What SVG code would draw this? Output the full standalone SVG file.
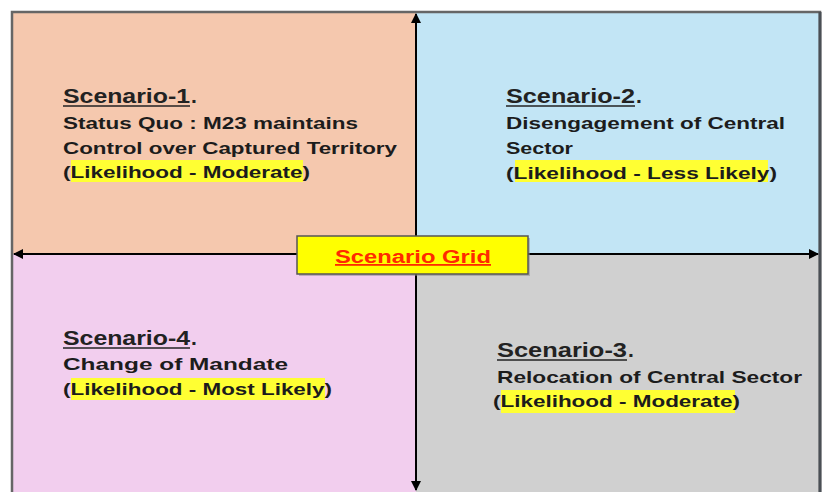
<svg xmlns="http://www.w3.org/2000/svg" width="825" height="492" viewBox="0 0 825 492">
<defs>
<style>
.h{font-family:"Liberation Sans",Arial,sans-serif;font-weight:bold;font-size:21px;fill:#222}
.b{font-family:"Liberation Sans",Arial,sans-serif;font-weight:bold;font-size:17px;fill:#1c1c1c}
.hl{fill:#ffff33}
.ul{stroke:#222;stroke-width:1.6}
.ax{stroke:#000;stroke-width:2;fill:none}
.g{font-family:"Liberation Sans",Arial,sans-serif;font-weight:bold;font-size:18px;fill:#ff2a00}
</style>
<marker id="ar" viewBox="0 0 10 10" refX="9" refY="5" markerWidth="5" markerHeight="5" orient="auto-start-reverse" markerUnits="strokeWidth">
<path d="M0,0 L10,5 L0,10 Z" fill="#000"/>
</marker>
</defs>
<rect width="825" height="492" fill="#fff"/>
<g id="q1">
<rect x="12" y="12" width="404" height="242" fill="#f5c8ae"/>
<rect class="hl" x="71" y="160" width="232" height="22"/>
<text class="h" x="63" y="103" textLength="127" lengthAdjust="spacingAndGlyphs">Scenario-1</text>
<text class="h" x="191" y="103">.</text>
<line class="ul" x1="63" y1="106" x2="190" y2="106"/>
<text class="b" x="63" y="129" textLength="295" lengthAdjust="spacingAndGlyphs">Status Quo : M23 maintains</text>
<text class="b" x="63" y="154" textLength="334" lengthAdjust="spacingAndGlyphs">Control over Captured Territory</text>
<text class="b" x="63" y="178" textLength="247" lengthAdjust="spacingAndGlyphs">(Likelihood - Moderate)</text>
</g>
<g id="q2">
<rect x="416" y="12" width="404" height="242" fill="#c2e5f5"/>
<rect class="hl" x="515" y="160" width="253" height="22"/>
<text class="h" x="506" y="103" textLength="129" lengthAdjust="spacingAndGlyphs">Scenario-2</text>
<text class="h" x="636" y="103">.</text>
<line class="ul" x1="506" y1="106" x2="635" y2="106"/>
<text class="b" x="506" y="129" textLength="279" lengthAdjust="spacingAndGlyphs">Disengagement of Central</text>
<text class="b" x="506" y="154" textLength="67" lengthAdjust="spacingAndGlyphs">Sector</text>
<text class="b" x="506" y="179" textLength="271" lengthAdjust="spacingAndGlyphs">(Likelihood - Less Likely)</text>
</g>
<g id="q4">
<rect x="12" y="254" width="404" height="238" fill="#f2ceee"/>
<rect class="hl" x="71" y="378" width="254" height="22"/>
<text class="h" x="63" y="345" textLength="127" lengthAdjust="spacingAndGlyphs">Scenario-4</text>
<text class="h" x="191" y="345">.</text>
<line class="ul" x1="63" y1="348" x2="190" y2="348"/>
<text class="b" x="63" y="370" textLength="225" lengthAdjust="spacingAndGlyphs">Change of Mandate</text>
<text class="b" x="63" y="395" textLength="269" lengthAdjust="spacingAndGlyphs">(Likelihood - Most Likely)</text>
</g>
<g id="q3">
<rect x="416" y="254" width="404" height="238" fill="#d0d0d0"/>
<rect class="hl" x="501" y="390" width="234" height="23"/>
<text class="h" x="497" y="357" textLength="130" lengthAdjust="spacingAndGlyphs">Scenario-3</text>
<text class="h" x="628" y="357">.</text>
<line class="ul" x1="497" y1="360" x2="627" y2="360"/>
<text class="b" x="497" y="383" textLength="305" lengthAdjust="spacingAndGlyphs">Relocation of Central Sector</text>
<text class="b" x="493" y="407" textLength="247" lengthAdjust="spacingAndGlyphs">(Likelihood - Moderate)</text>
</g>
<rect x="12" y="12" width="808" height="490" fill="none" stroke="#666" stroke-width="2.5"/>
<line x1="820" y1="12" x2="820" y2="492" stroke="#4a4f55" stroke-width="3"/>
<g id="connectors">
<line class="ax" x1="416" y1="14" x2="416" y2="490" marker-start="url(#ar)" marker-end="url(#ar)"/>
<line class="ax" x1="14" y1="254" x2="818" y2="254" marker-start="url(#ar)" marker-end="url(#ar)"/>
</g>
<g id="grid">
<rect x="299" y="238" width="231" height="38" fill="#888" opacity="0.5"/>
<rect x="297" y="236" width="231" height="38" fill="#ffff00" stroke="#555" stroke-width="1.5"/>
<text class="g" x="413" y="263" text-anchor="middle" text-decoration="underline" textLength="156" lengthAdjust="spacingAndGlyphs">Scenario Grid</text>
</g>
</svg>
